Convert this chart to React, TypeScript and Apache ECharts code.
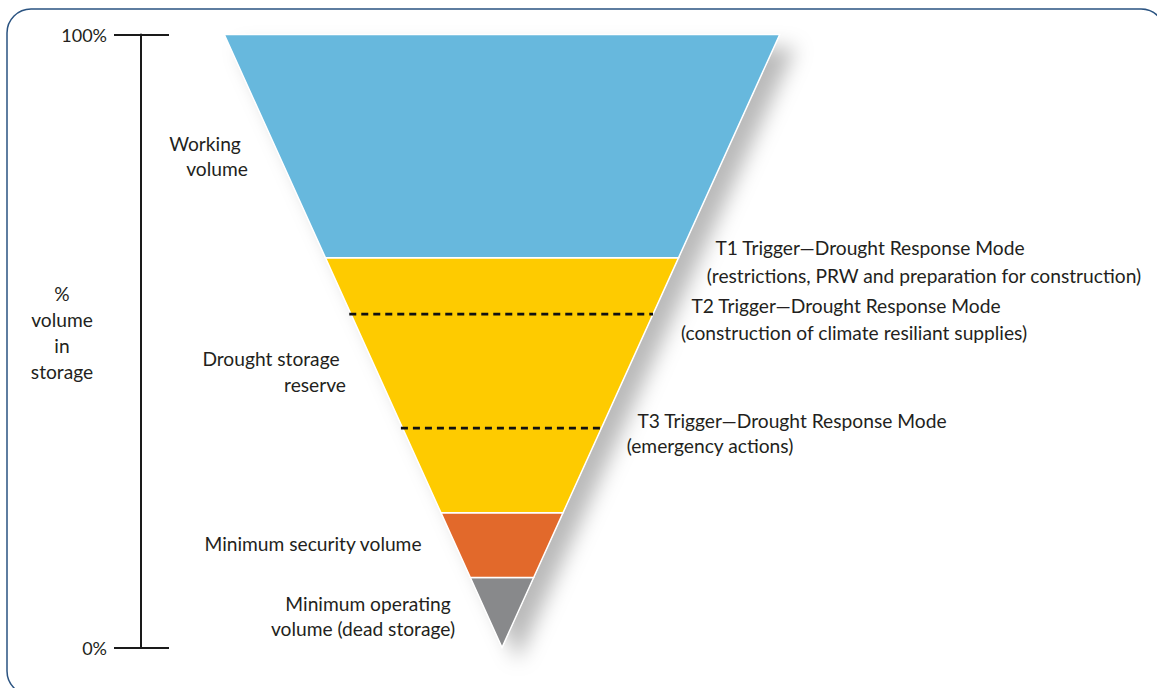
import React, { useEffect, useRef } from "react";
import * as echarts from "echarts";

// Storage zones (percent of volume in storage), bottom to top
const zoneNames = ["Minimum operating volume", "Minimum security volume", "Drought storage reserve", "Working volume"];
const zoneLower = [0, 11.4, 22.0, 63.6];
const zoneUpper = [11.4, 22.0, 63.6, 100];
const zoneColors = ["#88898b", "#e2692b", "#fecb00", "#67b8dd"];

// Dashed trigger levels inside the drought storage reserve (T2, T3)
const triggerNames = ["T2", "T3"];
const triggerLevels = [54.4, 35.8];

// Axis ticks
const axisTickValues = [0, 100];

// Half width of the funnel at 100% (x-axis units)
const TOP_HALF = 50;

const FONT = "Lato, 'Open Sans', sans-serif";
const TEXT = "#231f20";
const FS = 19.2;

type Lbl = { text: string; x: number; y: number };
const leftLabels: Lbl[] = [
  { text: "Working", x: 205, y: 143 },
  { text: "volume", x: 217, y: 168 },
  { text: "Drought storage", x: 271, y: 358 },
  { text: "reserve", x: 315, y: 384 },
  { text: "Minimum security volume", x: 313, y: 543 },
  { text: "Minimum operating", x: 368, y: 603 },
  { text: "volume (dead storage)", x: 363, y: 628 },
];
const axisTitleLines = ["%", "volume", "in", "storage"];
const triggerLabels: Lbl[] = [
  { text: "T1 Trigger\u2014Drought Response Mode", x: 870, y: 247 },
  { text: "(restrictions, PRW and preparation for construction)", x: 924, y: 275 },
  { text: "T2 Trigger\u2014Drought Response Mode", x: 846, y: 305 },
  { text: "(construction of climate resiliant supplies)", x: 854, y: 332 },
  { text: "T3 Trigger\u2014Drought Response Mode", x: 792, y: 420 },
  { text: "(emergency actions)", x: 710, y: 445 },
];

const halfAt = (v: number) => (TOP_HALF * v) / 100;

export default function App() {
  const ref = useRef<HTMLDivElement>(null);
  useEffect(() => {
    if (!ref.current) return;
    const chart = echarts.init(ref.current, null, { renderer: "svg" });

    const zoneData = zoneLower.map((lo, i) => ({ name: zoneNames[i], value: [lo, zoneUpper[i]] }));
    const triggerData = triggerLevels.map((v, i) => ({ name: triggerNames[i], value: [v] }));

    const textEl = (l: Lbl) => ({
      type: "text",
      x: l.x,
      y: l.y,
      silent: true,
      style: {
        text: l.text,
        fill: TEXT,
        fontSize: FS,
        fontFamily: FONT,
        textAlign: "center",
        textVerticalAlign: "middle",
      },
    });

    const option: any = {
      animation: false,
      grid: { left: 141, top: 34.5, bottom: 40.5, width: 722, containLabel: false },
      xAxis: { type: "value", min: -65, max: 65, show: false },
      yAxis: [
        {
          type: "value",
          position: "left",
          offset: 0,
          min: 0,
          max: 100,
          interval: 100,
          splitLine: { show: false },
          axisLine: { show: true, onZero: false, lineStyle: { color: "#1a1a1a", width: 2 } },
          axisTick: { show: true, length: 27, lineStyle: { color: "#1a1a1a", width: 2 } },
          axisLabel: {
            show: true,
            margin: 34,
            color: TEXT,
            fontSize: 18,
            fontFamily: FONT,
            formatter: (v: number) => (axisTickValues.includes(v) ? v + "%" : ""),
          },
        },
        {
          type: "value",
          position: "left",
          offset: 0,
          min: 0,
          max: 100,
          interval: 100,
          splitLine: { show: false },
          axisLine: { show: false, onZero: false },
          axisTick: { show: true, inside: true, length: 28, lineStyle: { color: "#1a1a1a", width: 2 } },
          axisLabel: { show: false },
        },
      ],
      graphic: [
        {
          type: "rect",
          shape: { x: 7, y: 9, width: 1158, height: 686, r: 24 },
          style: { fill: "none", stroke: "#2a5381", lineWidth: 1.5 },
          silent: true,
          z: -10,
        },
        ...leftLabels.map(textEl),
        ...triggerLabels.map(textEl),
        {
          type: "text",
          x: 62,
          y: 332,
          silent: true,
          style: {
            text: axisTitleLines.join("\n"),
            fill: TEXT,
            fontSize: FS,
            fontFamily: FONT,
            lineHeight: 26,
            textAlign: "center",
            textVerticalAlign: "middle",
          },
        },
      ],
      series: [
        {
          type: "custom",
          name: "shadow",
          z: 1,
          silent: true,
          data: [{ value: [0, 100] }],
          renderItem: (params: any, api: any) => {
            const lo = api.value(0);
            const hi = api.value(1);
            const pts = [
              api.coord([-halfAt(hi), hi]),
              api.coord([halfAt(hi), hi]),
              api.coord([halfAt(lo), lo]),
            ];
            return {
              type: "polygon",
              shape: { points: pts },
              style: {
                fill: "#ffffff",
                shadowBlur: 20,
                shadowColor: "rgba(0,0,0,0.27)",
                shadowOffsetX: 16,
                shadowOffsetY: 13,
              },
            };
          },
        },
        {
          type: "custom",
          name: "zones",
          z: 2,
          silent: true,
          data: zoneData,
          renderItem: (params: any, api: any) => {
            const lo = api.value(0);
            const hi = api.value(1);
            const pts = [
              api.coord([-halfAt(hi), hi]),
              api.coord([halfAt(hi), hi]),
              api.coord([halfAt(lo), lo]),
              api.coord([-halfAt(lo), lo]),
            ];
            return {
              type: "polygon",
              shape: { points: pts },
              style: { fill: zoneColors[params.dataIndex], stroke: "#ffffff", lineWidth: 1.5 },
            };
          },
        },
        {
          type: "custom",
          name: "triggers",
          z: 3,
          silent: true,
          data: triggerData,
          renderItem: (params: any, api: any) => {
            const v = api.value(0);
            const a = api.coord([-halfAt(v) - 0.3, v]);
            const b = api.coord([halfAt(v), v]);
            return {
              type: "line",
              shape: { x1: a[0], y1: a[1], x2: b[0], y2: b[1] },
              style: { stroke: "#111111", lineWidth: 2.8, lineDash: [7, 5] },
            };
          },
        },
      ],
    };
    chart.setOption(option);
    return () => chart.dispose();
  }, []);
  return (
    <div
      ref={ref}
      style={{ position: "fixed", left: 0, top: 0, width: 1157, height: 688, background: "#ffffff" }}
    />
  );
}
